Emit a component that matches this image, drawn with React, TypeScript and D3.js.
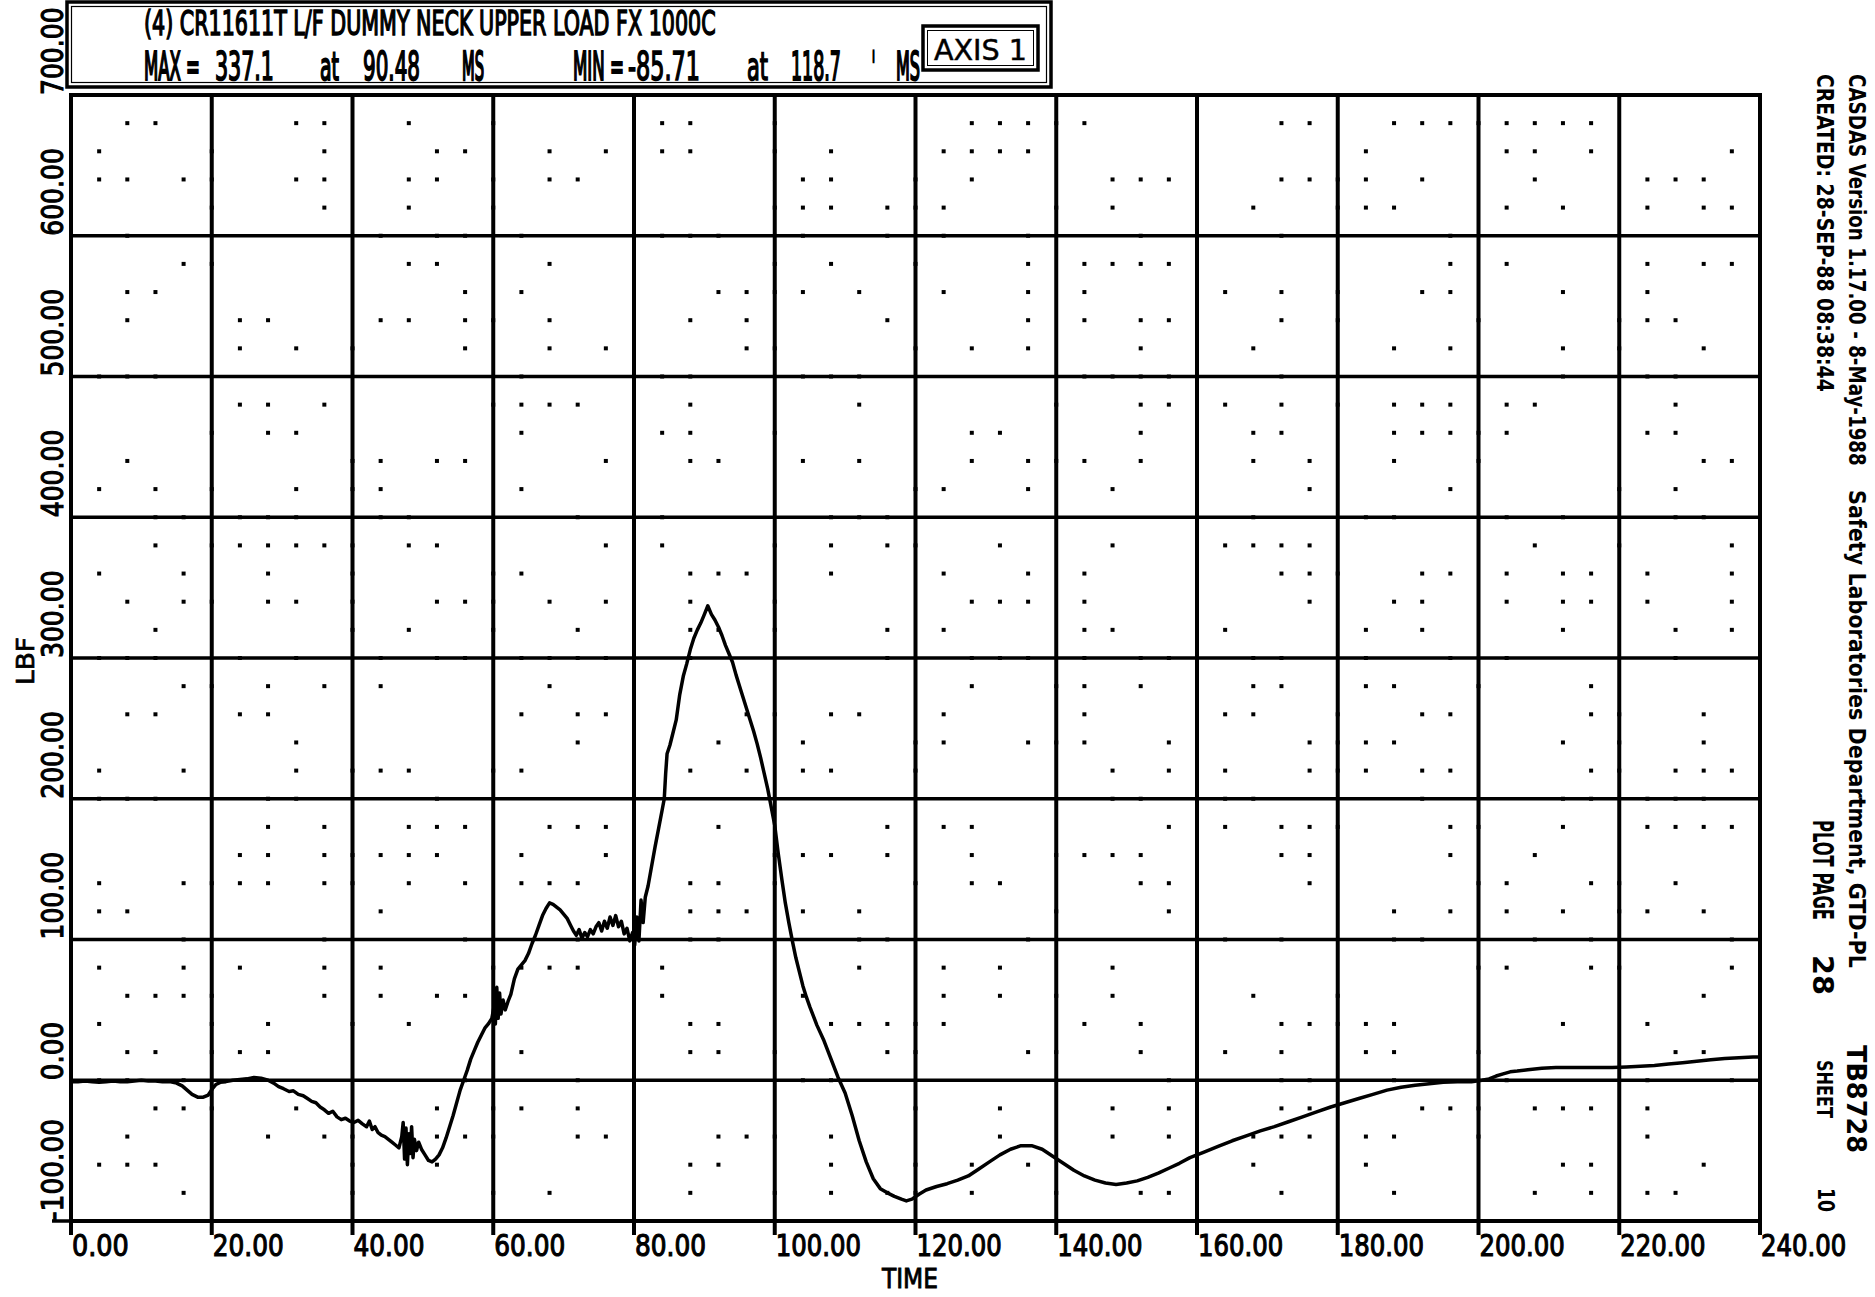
import React from "react";
import * as d3 from "d3";

// ---------- DATA ----------
const timeMs = [
  0, 1, 2, 3, 4, 5, 6, 7, 8, 9, 10, 11, 12, 13, 14, 15, 15.8, 16.5, 17.2, 18, 18.8, 19.5, 20.1, 20.6, 21.2, 22,
  23, 24, 25, 26, 27, 28, 28.8, 29.5, 30.2, 31, 31.6, 32.3, 33, 33.6, 34.2, 34.8, 35.4, 36, 36.6, 37.2, 37.8, 38.4,
  39, 39.6, 40.2, 40.8, 41.4, 42, 42.4, 42.8, 43.2, 43.6, 44.1, 44.6, 45.1, 45.6, 46.1, 46.6, 47, 47.2, 47.4, 47.6,
  47.8, 48, 48.2, 48.4, 48.6, 48.8, 49.1, 49.4, 49.8, 50.3, 50.8, 51.3, 51.8, 52.3, 52.8, 53.3, 53.8, 54.3, 54.8,
  55.3, 55.8, 56.3, 56.8, 57.3, 57.8, 58.3, 58.8, 59.3, 59.8, 60.1, 60.3, 60.5, 60.7, 60.9, 61.1, 61.4, 61.7, 62.1,
  62.5, 63, 63.5, 64, 64.5, 65, 65.5, 66, 66.5, 67, 67.5, 68, 68.5, 69, 69.5, 70, 70.5, 71, 71.4, 71.8, 72.2, 72.6,
  73, 73.4, 73.8, 74.2, 74.6, 75, 75.4, 75.8, 76.2, 76.6, 77, 77.4, 77.8, 78.2, 78.6, 79, 79.4, 79.8, 80.1, 80.4,
  80.7, 81, 81.3, 81.6, 82, 82.5, 83, 83.5, 84, 84.3, 84.5, 84.7, 85.1, 85.5, 86, 86.5, 87, 87.5, 88, 88.5, 89,
  89.5, 90, 90.48, 91, 91.5, 92, 92.5, 93, 93.5, 94, 94.5, 95, 95.5, 96, 96.5, 97, 97.5, 98, 98.5, 99, 99.5, 100,
  100.5, 101, 101.5, 102, 102.5, 103, 103.5, 104, 104.5, 105, 106, 107, 108, 109, 110, 111, 112, 113, 114, 115,
  116, 117, 118, 118.7, 119.5, 120.5, 121.5, 123, 124.5, 126, 127.5, 129, 130.5, 132, 133.5, 135, 136.5, 138,
  139.5, 141, 142.5, 144, 145.5, 147, 148.5, 150, 151.5, 153, 154.5, 156, 157.5, 159, 161, 163, 165, 167, 169,
  171, 173, 175, 177, 179, 181, 183, 185, 187, 189, 191, 193, 195, 197, 199, 200.5, 201.5, 202.5, 203.5, 204.5,
  205.5, 207, 209, 211, 213, 215, 217, 219, 221, 223, 225, 227, 229, 231, 233, 235, 237, 239, 240,
];
const forceLbf = [
  -1, -1, -0.5, -1, -1.5, -1, -0.5, -1, -1, -0.5, 0, -0.5, -0.5, -1, -1, -2, -4, -7, -10, -12, -12, -10.5, -6, -3,
  -1.5, -1, 0, 0.5, 1, 2, 1.5, 0, -2, -4.5, -6, -8, -7.5, -10, -11, -13, -15, -16, -19, -21, -23.5, -22, -26, -28,
  -27, -29, -30, -28.5, -31, -33, -29, -35, -33, -37, -39, -40, -42, -44, -46, -48, -40, -30, -56, -34, -60, -38,
  -52, -33, -55, -42, -50, -44, -49, -53, -57, -58, -56, -53, -48, -41, -33, -25, -16, -7, 0, 7, 15, 21, 27, 32,
  37, 40, 44, 52, 40, 66, 44, 62, 47, 57, 50, 56, 61, 72, 79, 82, 85, 90, 97, 103, 110, 117, 122, 126, 125, 123,
  121, 118, 115, 110, 106, 103, 107, 101, 105, 102, 107, 104, 109, 112, 106, 113, 108, 116, 110, 117, 109, 113,
  104, 108, 99, 105, 96, 116, 99, 128, 112, 130, 138, 152, 166, 179, 192, 200, 218, 232, 238, 246, 256, 274, 287,
  296, 306, 314, 320, 325, 331, 337.1, 331, 327, 322, 316, 309, 303, 297, 288, 280, 272, 264, 256, 248, 239, 229,
  218, 207, 194, 181, 161, 143, 126, 112, 99, 87, 77, 67, 59, 52, 39, 28, 15, 2, -9, -25, -43, -58, -70, -77, -80,
  -82.5, -84.5, -85.7, -84.5, -81, -78, -75.5, -73.5, -71, -68, -63, -58, -53, -49, -46.5, -46.5, -49, -54, -59,
  -64, -68, -71, -73, -74, -73, -71.5, -69, -66, -62.5, -59, -55, -51, -47, -43, -39.5, -36, -33, -29.5, -26,
  -22.5, -19, -16, -13, -10, -7, -5, -3.5, -2.5, -1.5, -1, -1, 0, 1, 3, 4.5, 6, 6.5, 7.5, 8.5, 9, 9, 9, 9, 9, 9.5,
  10, 10.5, 11.5, 12.5, 13.5, 14.5, 15.5, 16, 16.5, 16.5,
];
const xTicks = [0, 20, 40, 60, 80, 100, 120, 140, 160, 180, 200, 220, 240];
const yTicks = [-100, 0, 100, 200, 300, 400, 500, 600, 700];
const titleText = "(4) CR11611T L/F DUMMY NECK UPPER LOAD FX 1000C";
const statTexts = ["MAX =", "337.1", "at", "90.48", "MS", "MIN =", "-85.71", "at", "118.7", "'", "MS"];
const axisBoxText = "AXIS 1";
const xTitle = "TIME";
const yTitle = "LBF";
const sideLine1 = ["CASDAS Version 1.17.00 - 8-May-1988", "Safety Laboratories Department, GTD-PL", "TB8728"];
const sideLine2 = ["CREATED: 28-SEP-88 08:38:44", "PLOT PAGE", "28", "SHEET", "10"];

// ---------- LAYOUT ----------
const W = 1875;
const H = 1297;
const PL = 71, PR = 1760, PT = 95, PB = 1221;
const FONT_NAME = "DejaVu Sans Condensed";
const FONT = "'DejaVu Sans Condensed', 'DejaVu Sans', sans-serif";

// header stat items: [x start, width]
const statPos: [number, number][] = [
  [144, 56], [215, 59], [320, 19], [363, 57], [462, 22], [573, 51], [628, 72], [747, 21], [791, 50], [872, 3], [896, 24],
];
// side text layout: [baseline x, y start, length, font size]
const side1Pos: [number, number, number, number][] = [
  [1849, 74, 392, 23], [1849, 490, 478, 23], [1847, 1045, 108, 27],
];
const side2Pos: [number, number, number, number][] = [
  [1817, 74, 318, 23], [1813, 820, 100, 29], [1813, 955, 40, 29], [1817, 1060, 58, 22], [1818, 1188, 24, 23],
];

function hash(i: number, j: number) {
  const s = Math.sin(i * 12.9898 + j * 78.233) * 43758.5453;
  return s - Math.floor(s);
}

let measureCtx: CanvasRenderingContext2D | null = null;
function naturalWidth(s: string, size: number, weight = "normal") {
  if (!measureCtx && typeof document !== "undefined") {
    measureCtx = document.createElement("canvas").getContext("2d");
  }
  if (!measureCtx) return s.length * size * 0.55;
  measureCtx.font = `${weight} ${size}px "${FONT_NAME}"`;
  const w = measureCtx.measureText(s).width;
  return w > 0 ? w : s.length * size * 0.55;
}

// text squeezed horizontally by a transform so its real box matches the target width
function FitText(props: {
  x: number;
  y: number;
  text: string;
  size: number;
  width: number;
  rotate?: number;
  weight?: string;
  stroke?: number;
}) {
  const { x, y, text, size, width, rotate = 0, weight = "normal", stroke = 0 } = props;
  const nw = naturalWidth(text, size, weight);
  const sx = width / nw;
  return (
    <text
      transform={`translate(${x},${y}) rotate(${rotate}) scale(${sx},1)`}
      fontSize={size}
      fontWeight={weight}
      stroke={stroke ? "#000" : "none"}
      strokeWidth={stroke ? stroke / Math.max(sx, 0.3) : 0}
      fill="#000"
    >
      {text}
    </text>
  );
}

export default function App() {
  const x = d3.scaleLinear().domain([0, 240]).range([PL, PR]);
  const y = d3.scaleLinear().domain([-100, 700]).range([PB, PT]);
  const line = d3
    .line<number>()
    .x((_, i) => x(timeMs[i]))
    .y((d) => y(d));
  const path = line(forceLbf) || "";

  // minor dotted grid texture of the plotter sheet
  const dots: JSX.Element[] = [];
  for (let i = 0; i <= 60; i++) {
    for (let j = 0; j <= 40; j++) {
      if (i % 5 === 0 && j % 5 === 0) continue;
      if (hash(i, j) < 0.38) {
        const cx = x(i * 4);
        const cy = y(-100 + j * 20);
        dots.push(<rect key={`d${i}-${j}`} x={cx - 2} y={cy - 2} width={4} height={4} fill="#000" />);
      }
    }
  }

  return (
    <svg
      width={W}
      height={H}
      viewBox={`0 0 ${W} ${H}`}
      style={{ position: "absolute", left: 0, top: 0, background: "#fff" }}
      fontFamily={FONT}
    >
      <rect x={0} y={0} width={W} height={H} fill="#fff" />
      {/* header box */}
      <rect x={67} y={2} width={984} height={85} fill="none" stroke="#000" strokeWidth={3.5} />
      <rect x={71.5} y={6.5} width={975} height={76} fill="none" stroke="#000" strokeWidth={1.2} />
      <FitText x={144} y={35} text={titleText} size={33} width={572} stroke={1} />
      {statTexts.map((s, i) => (
        <FitText key={`st${i}`} x={statPos[i][0]} y={80} text={s} size={39} width={statPos[i][1]} stroke={1} />
      ))}
      <rect x={923} y={26} width={115} height={44} fill="none" stroke="#000" strokeWidth={3.5} />
      <rect x={927.5} y={30.5} width={106} height={35} fill="none" stroke="#000" strokeWidth={1} />
      <FitText x={934} y={60} text={axisBoxText} size={29} width={93} stroke={0.5} />

      {/* minor dots */}
      <g>{dots}</g>

      {/* grid */}
      {xTicks.map((t) => (
        <line key={`vx${t}`} x1={x(t)} x2={x(t)} y1={PT} y2={PB + 14} stroke="#000" strokeWidth={4} />
      ))}
      {yTicks.map((v) => (
        <line key={`hy${v}`} x1={PL} x2={PR} y1={y(v)} y2={y(v)} stroke="#000" strokeWidth={3.5} />
      ))}
      <line x1={52} x2={PL} y1={PB} y2={PB} stroke="#000" strokeWidth={3.5} />
      <rect x={PL} y={PT} width={PR - PL} height={PB - PT} fill="none" stroke="#000" strokeWidth={4} />

      {/* curve */}
      <path d={path} fill="none" stroke="#000" strokeWidth={3.5} strokeLinejoin="round" />

      {/* x tick labels */}
      {xTicks.map((t) => {
        const s = t.toFixed(2);
        return <FitText key={`xl${t}`} x={x(t) + 1} y={1256} text={s} size={30} width={s.length * 14.2} stroke={1} />;
      })}
      {/* y tick labels */}
      {yTicks.map((v) => {
        const s = v.toFixed(2);
        return (
          <FitText key={`yl${v}`} x={63} y={y(v)} rotate={-90} text={s} size={30} width={s.length * 14.6} stroke={1} />
        );
      })}
      <FitText x={882} y={1288} text={xTitle} size={27} width={56} stroke={0.8} />
      <FitText x={34} y={685} rotate={-90} text={yTitle} size={25} width={48} stroke={0.8} />

      {/* side annotations */}
      {sideLine1.map((s, i) => (
        <FitText
          key={`s1${i}`}
          x={side1Pos[i][0]}
          y={side1Pos[i][1]}
          rotate={90}
          text={s}
          size={side1Pos[i][3]}
          width={side1Pos[i][2]}
          weight="bold"
        />
      ))}
      {sideLine2.map((s, i) => (
        <FitText
          key={`s2${i}`}
          x={side2Pos[i][0]}
          y={side2Pos[i][1]}
          rotate={90}
          text={s}
          size={side2Pos[i][3]}
          width={side2Pos[i][2]}
          weight="bold"
        />
      ))}
    </svg>
  );
}
